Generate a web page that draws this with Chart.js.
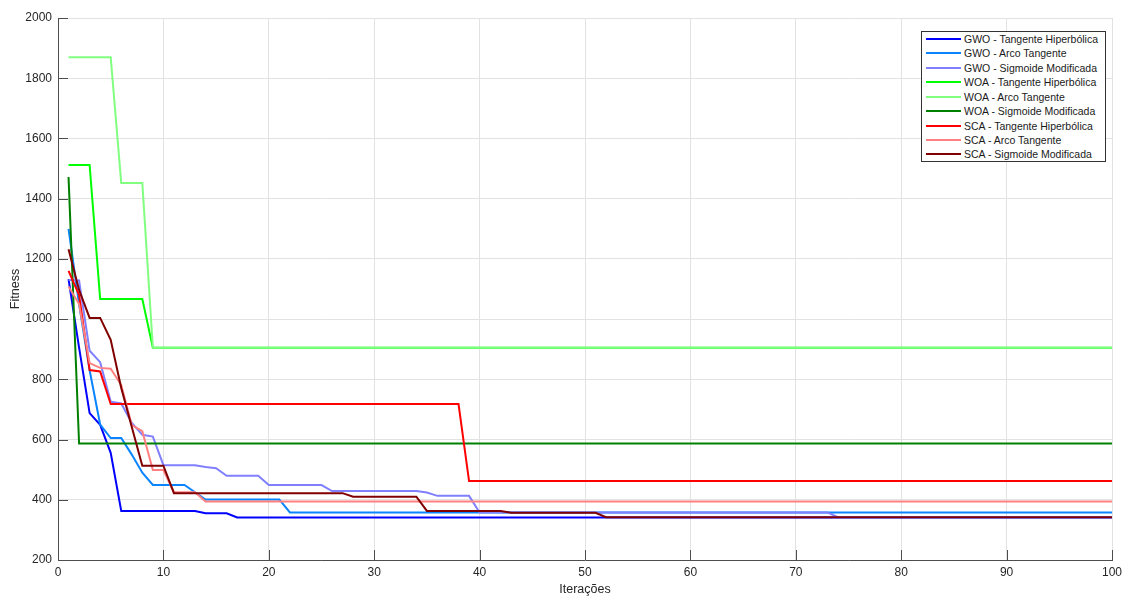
<!DOCTYPE html>
<html>
<head>
<meta charset="utf-8">
<script src="https://cdn.jsdelivr.net/npm/chart.js@4.4.1/dist/chart.umd.min.js"></script>
<style>
  html, body { margin:0; padding:0; background:#fff; }
  #wrap { position:relative; width:1123px; height:597px; }
  #legend { position:absolute; left:921px; top:31px; width:183px; height:129px; border:1px solid #333; background:#fff;
    font-family:"Liberation Sans", Arial, sans-serif; font-size:10.5px; color:#1a1a1a; box-sizing:content-box; }
  .item { position:absolute; left:0; height:14px; line-height:14px; white-space:nowrap; }
  .sw { position:absolute; left:4px; top:6px; width:35px; height:2px; }
  .lb { position:absolute; left:42px; top:0; }
</style>
</head>
<body>
<div id="wrap">
  <canvas id="c" width="1123" height="597"></canvas>
  <div id="legend"></div>
</div>
<script>
// ---- data (iteration breakpoints and fitness values) ----
const seriesNames = [
  "GWO - Tangente Hiperbólica", "GWO - Arco Tangente", "GWO - Sigmoide Modificada",
  "WOA - Tangente Hiperbólica", "WOA - Arco Tangente", "WOA - Sigmoide Modificada",
  "SCA - Tangente Hiperbólica", "SCA - Arco Tangente", "SCA - Sigmoide Modificada"
];
const seriesColors = ["#0000ff","#0a84ff","#8080ff","#00ff00","#80ff80","#008000","#ff0000","#ff8080","#800000"];

const gwoTanhIter = [1,2,3,4,5,6,13,14,16,17,100];
const gwoTanhFit  = [1133,905,688,649,556,363,363,355,355,341,341];

const gwoAtanIter = [1,2,3,4,5,6,7,8,9,12,13,14,21,22,100];
const gwoAtanFit  = [1300,1050,830,650,605,605,550,490,449,449,425,401,401,358,358];

const gwoSigIter = [1,2,3,4,5,6,7,8,9,10,13,14,15,16,19,20,25,26,34,35,36,39,40,73,74,100];
const gwoSigFit  = [1130,1128,895,857,726,720,655,616,610,515,515,509,505,480,480,449,449,429,429,424,413,413,358,358,342,342];

const woaTanhIter = [1,3,4,8,9,100];
const woaTanhFit  = [1512,1512,1067,1067,905,905];

const woaAtanIter = [1,5,6,8,9,100];
const woaAtanFit  = [1870,1870,1452,1452,905,905];

const woaSigIter = [1,2,100];
const woaSigFit  = [1472,587,587];

const scaTanhIter = [1,2,3,4,5,38,39,100];
const scaTanhFit  = [1160,1080,831,826,718,718,462,462];

const scaAtanIter = [1,2,3,4,5,6,7,8,9,10,11,13,14,100];
const scaAtanFit  = [1108,1050,854,838,835,781,648,628,499,499,425,425,394,394];

const scaSigIter = [1,2,3,4,5,6,7,8,10,11,27,28,34,35,42,43,51,52,100];
const scaSigFit  = [1232,1097,1004,1004,931,771,642,513,513,422,422,410,410,363,363,357,357,342,342];

const xTicks = [0,10,20,30,40,50,60,70,80,90,100];
const yTicks = [200,400,600,800,1000,1200,1400,1600,1800,2000];

const allIter = [gwoTanhIter,gwoAtanIter,gwoSigIter,woaTanhIter,woaAtanIter,woaSigIter,scaTanhIter,scaAtanIter,scaSigIter];
const allFit  = [gwoTanhFit,gwoAtanFit,gwoSigFit,woaTanhFit,woaAtanFit,woaSigFit,scaTanhFit,scaAtanFit,scaSigFit];

const FONT = '"Liberation Sans", Arial, sans-serif';
const TEXT = '#262626';

const datasets = seriesNames.map((name, i) => ({
  label: name,
  data: allIter[i].map((x, k) => ({x: x, y: allFit[i][k]})),
  borderColor: seriesColors[i],
  backgroundColor: seriesColors[i],
  borderWidth: 2,
  pointRadius: 0,
  tension: 0,
  fill: false,
  order: seriesNames.length - i   // later series drawn on top
}));

// inward tick marks (MATLAB style)
const inwardTicks = {
  id: 'inwardTicks',
  afterDatasetsDraw(chart) {
    const {ctx, chartArea: a, scales: {x, y}} = chart;
    ctx.save();
    ctx.strokeStyle = '#4d4d4d';
    ctx.lineWidth = 1;
    ctx.beginPath();
    yTicks.forEach(v => { const py = Math.round(y.getPixelForValue(v)) + 0.5; ctx.moveTo(a.left, py); ctx.lineTo(a.left + 10, py); });
    xTicks.forEach(v => { const px = Math.round(x.getPixelForValue(v)) + 0.5; ctx.moveTo(px, a.bottom); ctx.lineTo(px, a.bottom - 10); });
    ctx.stroke();
    ctx.restore();
  }
};

new Chart(document.getElementById('c'), {
  type: 'line',
  data: { datasets },
  plugins: [inwardTicks],
  options: {
    responsive: false,
    animation: false,
    devicePixelRatio: 1,
    layout: { padding: { left: 0, top: 18, right: 11, bottom: 0 } },
    plugins: { legend: { display: false }, tooltip: { enabled: false } },
    scales: {
      x: {
        type: 'linear', min: 0, max: 100,
        afterFit(s) { s.height = 37; s.paddingLeft = 0; s.paddingRight = 0; },
        afterBuildTicks(s) { s.ticks = xTicks.map(v => ({value: v})); },
        grid: { color: '#e2e2e2', drawTicks: false, lineWidth: 1 },
        border: { display: true, color: '#4d4d4d', width: 1 },
        ticks: { color: TEXT, font: { family: FONT, size: 12 }, padding: 5, maxRotation: 0, callback: v => String(v) },
        title: { display: true, text: 'Iterações', color: TEXT, font: { family: FONT, size: 12.5 }, padding: { top: 0, bottom: 0 } }
      },
      y: {
        type: 'linear', min: 200, max: 2000,
        afterFit(s) { s.width = 58; s.paddingTop = 0; s.paddingBottom = 0; },
        afterBuildTicks(s) { s.ticks = yTicks.map(v => ({value: v})); },
        grid: { color: '#e2e2e2', drawTicks: false, lineWidth: 1 },
        border: { display: true, color: '#4d4d4d', width: 1 },
        ticks: { color: TEXT, font: { family: FONT, size: 12 }, padding: 6, callback: v => String(v) },
        title: { display: true, text: 'Fitness', color: TEXT, font: { family: FONT, size: 12.5 }, padding: { top: 8, bottom: 0 } }
      }
    }
  }
});

// legend built from the same arrays
const leg = document.getElementById('legend');
seriesNames.forEach((name, i) => {
  const it = document.createElement('div');
  it.className = 'item';
  it.style.top = (0 + i * 14.42) + 'px';
  const sw = document.createElement('div');
  sw.className = 'sw';
  sw.style.background = seriesColors[i];
  const lb = document.createElement('span');
  lb.className = 'lb';
  lb.textContent = name;
  it.appendChild(sw); it.appendChild(lb);
  leg.appendChild(it);
});
</script>
</body>
</html>
